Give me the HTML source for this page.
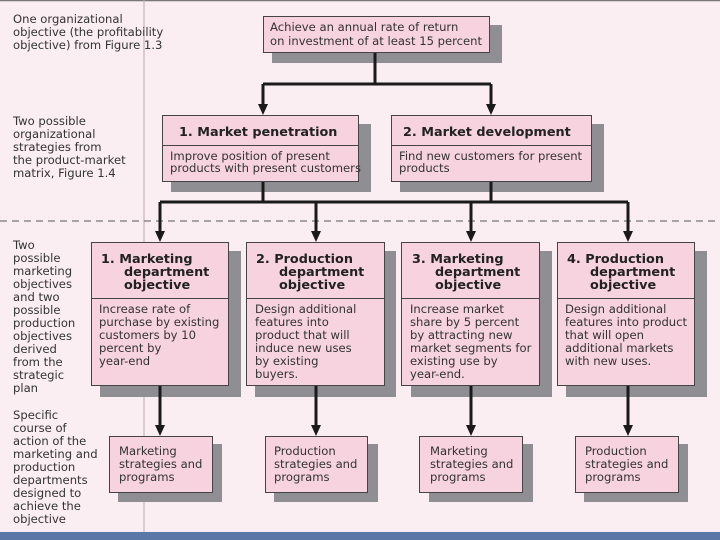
<!DOCTYPE html>
<html><head><meta charset="utf-8"><style>
html,body{margin:0;padding:0;background:#faeef2;}
svg{display:block;font-family:"DejaVu Sans","Liberation Sans",sans-serif;}
</style></head><body>
<svg width="720" height="540" viewBox="0 0 720 540" xmlns="http://www.w3.org/2000/svg">
<rect width="720" height="540" fill="#faeef2"/>
<line x1="0" y1="0.5" x2="720" y2="0.5" stroke="#777" stroke-width="1.5"/>
<line x1="144" y1="0" x2="144" y2="532" stroke="#b8a8ae" stroke-width="1"/>
<line x1="0" y1="221" x2="720" y2="221" stroke="#777" stroke-width="1.3" stroke-dasharray="7,5"/>
<rect x="0" y="532" width="720" height="8" fill="#5a77a6"/>

<g fill="#8f8f93">
<rect x="272" y="25" width="230" height="38"/>
<rect x="171" y="124" width="200" height="68"/>
<rect x="400" y="124" width="204" height="68"/>
<rect x="100" y="251" width="141" height="146"/>
<rect x="255" y="251" width="141" height="146"/>
<rect x="411" y="251" width="141" height="146"/>
<rect x="566" y="251" width="141" height="146"/>
<rect x="118" y="444" width="104" height="58"/>
<rect x="274" y="444" width="104" height="58"/>
<rect x="429" y="444" width="104" height="58"/>
<rect x="584" y="444" width="104" height="58"/>
</g>

<g stroke="#1a1a1a" stroke-width="3" fill="none">
<path d="M375,52 V84 M263,84 H491 M263,84 V106 M491,84 V106"/>
<path d="M263,181 V202 M491,181 V202 M160,202 H628"/>
<path d="M160,202 V233 M316,202 V233 M471,202 V233 M628,202 V233"/>
<path d="M160,386 V427 M316,386 V427 M471,386 V427 M628,386 V427"/>
</g>
<g fill="#1a1a1a">
<path d="M258,104 L268,104 L263,115 Z"/>
<path d="M486,104 L496,104 L491,115 Z"/>
<path d="M155,231 L165,231 L160,242 Z"/>
<path d="M311,231 L321,231 L316,242 Z"/>
<path d="M466,231 L476,231 L471,242 Z"/>
<path d="M623,231 L633,231 L628,242 Z"/>
<path d="M155,425 L165,425 L160,436 Z"/>
<path d="M311,425 L321,425 L316,436 Z"/>
<path d="M466,425 L476,425 L471,436 Z"/>
<path d="M623,425 L633,425 L628,436 Z"/>
</g>

<g fill="#f6d3df" stroke="#444" stroke-width="1">
<rect x="263.5" y="16.5" width="226" height="36"/>
<rect x="162.5" y="115.5" width="196" height="66"/>
<rect x="391.5" y="115.5" width="200" height="66"/>
<rect x="91.5" y="242.5" width="137" height="143"/>
<rect x="246.5" y="242.5" width="138" height="143"/>
<rect x="401.5" y="242.5" width="138" height="143"/>
<rect x="557.5" y="242.5" width="137" height="143"/>
<rect x="109.5" y="436.5" width="103" height="56"/>
<rect x="265.5" y="436.5" width="102" height="56"/>
<rect x="419.5" y="436.5" width="103" height="56"/>
<rect x="575.5" y="436.5" width="103" height="56"/>
</g>
<g stroke="#444" stroke-width="1">
<line x1="162" y1="145.5" x2="359" y2="145.5"/>
<line x1="391" y1="145.5" x2="592" y2="145.5"/>
<line x1="91" y1="298.5" x2="229" y2="298.5"/>
<line x1="246" y1="298.5" x2="385" y2="298.5"/>
<line x1="401" y1="298.5" x2="540" y2="298.5"/>
<line x1="557" y1="298.5" x2="695" y2="298.5"/>
</g>

<g font-size="11.6" fill="#333">
<text x="13" y="23">One organizational</text>
<text x="13" y="36">objective (the profitability</text>
<text x="13" y="49">objective) from Figure 1.3</text>
<text x="13" y="125">Two possible</text>
<text x="13" y="138">organizational</text>
<text x="13" y="151">strategies from</text>
<text x="13" y="164">the product-market</text>
<text x="13" y="177">matrix, Figure 1.4</text>
<text x="13" y="249">Two</text>
<text x="13" y="262">possible</text>
<text x="13" y="275">marketing</text>
<text x="13" y="288">objectives</text>
<text x="13" y="301">and two</text>
<text x="13" y="314">possible</text>
<text x="13" y="327">production</text>
<text x="13" y="340">objectives</text>
<text x="13" y="353">derived</text>
<text x="13" y="366">from the</text>
<text x="13" y="379">strategic</text>
<text x="13" y="392">plan</text>
<text x="13" y="419">Specific</text>
<text x="13" y="432">course of</text>
<text x="13" y="445">action of the</text>
<text x="13" y="458">marketing and</text>
<text x="13" y="471">production</text>
<text x="13" y="484">departments</text>
<text x="13" y="497">designed to</text>
<text x="13" y="510">achieve the</text>
<text x="13" y="523">objective</text>

<text x="270" y="31">Achieve an annual rate of return</text>
<text x="270" y="45">on investment of at least 15 percent</text>
<text x="170" y="160">Improve position of present</text>
<text x="170" y="172">products with present customers</text>
<text x="399" y="160">Find new customers for present</text>
<text x="399" y="172">products</text>

<text x="99" y="313">Increase rate of</text>
<text x="99" y="326">purchase by existing</text>
<text x="99" y="339">customers by 10</text>
<text x="99" y="352">percent by</text>
<text x="99" y="365">year-end</text>
<text x="255" y="313">Design additional</text>
<text x="255" y="326">features into</text>
<text x="255" y="339">product that will</text>
<text x="255" y="352">induce new uses</text>
<text x="255" y="365">by existing</text>
<text x="255" y="378">buyers.</text>
<text x="410" y="313">Increase market</text>
<text x="410" y="326">share by 5 percent</text>
<text x="410" y="339">by attracting new</text>
<text x="410" y="352">market segments for</text>
<text x="410" y="365">existing use by</text>
<text x="410" y="378">year-end.</text>
<text x="565" y="313">Design additional</text>
<text x="565" y="326">features into product</text>
<text x="565" y="339">that will open</text>
<text x="565" y="352">additional markets</text>
<text x="565" y="365">with new uses.</text>

<text x="119" y="455">Marketing</text>
<text x="119" y="468">strategies and</text>
<text x="119" y="481">programs</text>
<text x="274" y="455">Production</text>
<text x="274" y="468">strategies and</text>
<text x="274" y="481">programs</text>
<text x="430" y="455">Marketing</text>
<text x="430" y="468">strategies and</text>
<text x="430" y="481">programs</text>
<text x="585" y="455">Production</text>
<text x="585" y="468">strategies and</text>
<text x="585" y="481">programs</text>
</g>

<g font-size="12.8" font-weight="bold" fill="#222">
<text x="179" y="136">1.  Market penetration</text>
<text x="403" y="136">2.  Market development</text>
<text x="101" y="263">1.  Marketing</text>
<text x="124" y="276">department</text>
<text x="124" y="289">objective</text>
<text x="256" y="263">2.  Production</text>
<text x="279" y="276">department</text>
<text x="279" y="289">objective</text>
<text x="412" y="263">3.  Marketing</text>
<text x="435" y="276">department</text>
<text x="435" y="289">objective</text>
<text x="567" y="263">4.  Production</text>
<text x="590" y="276">department</text>
<text x="590" y="289">objective</text>
</g>
</svg>
</body></html>
